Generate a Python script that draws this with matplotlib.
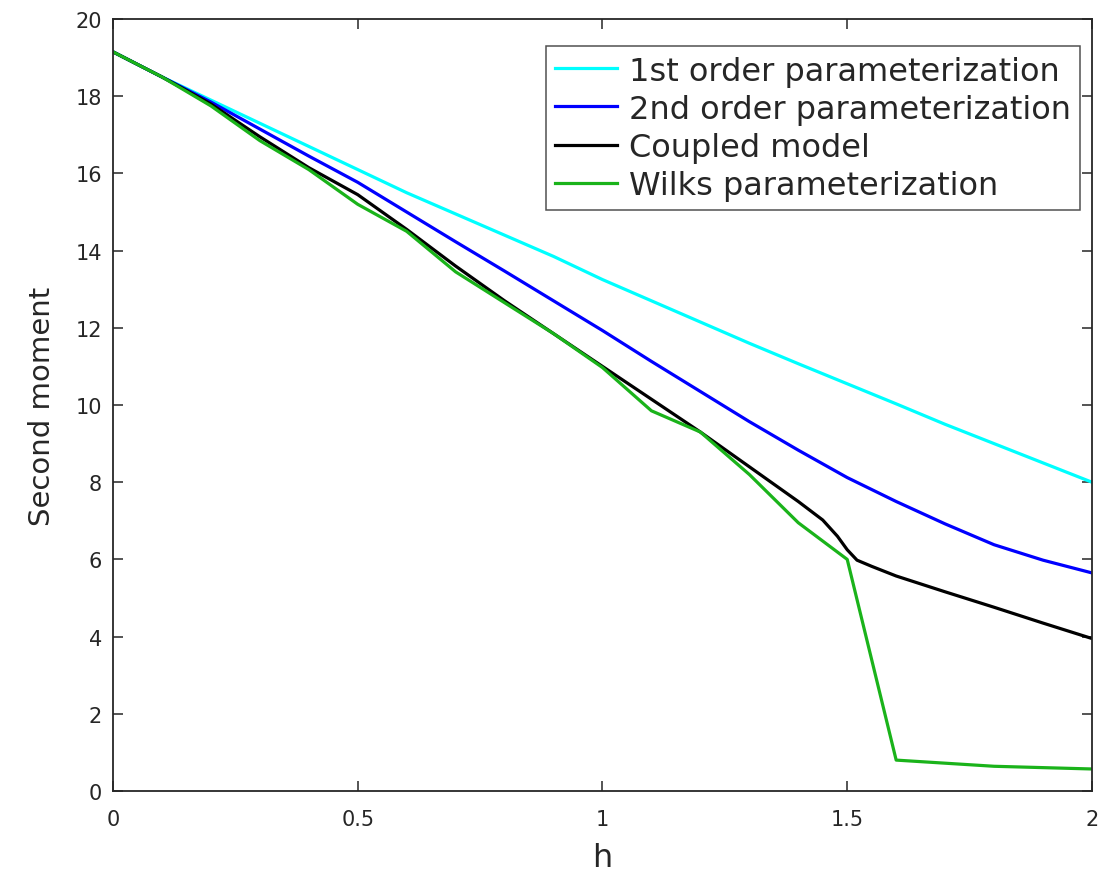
import numpy as np
import matplotlib
matplotlib.use("Agg")
import matplotlib.pyplot as plt

# 1st / 2nd order parameterization, sampled every 0.1 in h
h_param = [0.0, 0.1, 0.2, 0.3, 0.4, 0.5, 0.6, 0.7, 0.8, 0.9, 1.0,
           1.1, 1.2, 1.3, 1.4, 1.5, 1.6, 1.7, 1.8, 1.9, 2.0]
first_order = [19.15, 18.5, 17.9, 17.3, 16.7, 16.1, 15.5, 14.95, 14.4, 13.85, 13.25,
               12.7, 12.15, 11.6, 11.07, 10.55, 10.03, 9.5, 9.0, 8.5, 8.0]
second_order = [19.15, 18.5, 17.85, 17.15, 16.45, 15.77, 15.0, 14.23, 13.47, 12.7, 11.93,
                11.13, 10.35, 9.57, 8.83, 8.12, 7.5, 6.92, 6.38, 5.98, 5.65]

# coupled model
h_coupled = [0.0, 0.1, 0.2, 0.3, 0.4, 0.5, 0.6, 0.7, 0.8, 0.9, 1.0,
             1.1, 1.2, 1.3, 1.4, 1.45, 1.48, 1.5, 1.52, 1.55, 1.6, 1.7, 1.8, 1.9, 2.0]
coupled = [19.15, 18.5, 17.8, 16.95, 16.15, 15.45, 14.55, 13.6, 12.7, 11.85, 11.0,
           10.15, 9.3, 8.4, 7.5, 7.02, 6.6, 6.25, 5.98, 5.82, 5.57, 5.16, 4.76, 4.35, 3.95]

# Wilks parameterization
h_wilks = [0.0, 0.1, 0.2, 0.3, 0.4, 0.5, 0.6, 0.7, 0.8, 0.9, 1.0,
           1.1, 1.2, 1.3, 1.4, 1.5, 1.6, 1.8, 2.0]
wilks = [19.15, 18.5, 17.75, 16.85, 16.1, 15.2, 14.5, 13.45, 12.65, 11.85, 10.97,
         9.85, 9.3, 8.2, 6.95, 6.0, 0.8, 0.64, 0.57]

labels = ["1st order parameterization", "2nd order parameterization",
          "Coupled model", "Wilks parameterization"]

ax_col = "#262626"
plt.rcParams['font.family'] = ['DejaVu Sans']

fig = plt.figure(figsize=(10.99, 8.79), dpi=100)
ax = fig.add_axes([0.1028, 0.099, 0.8908, 0.8782])

lw = 2.3
ax.plot(h_param, first_order, color=(0, 1, 1), lw=lw, label=labels[0])
ax.plot(h_param, second_order, color=(0, 0, 1), lw=lw, label=labels[1])
ax.plot(h_coupled, coupled, color="black", lw=lw, label=labels[2])
ax.plot(h_wilks, wilks, color=(0.1, 0.7, 0.1), lw=lw, label=labels[3])

ax.set_xlim(0, 2)
ax.set_ylim(0, 20)
ax.set_xticks([0, 0.5, 1, 1.5, 2])
ax.set_xticklabels(["0", "0.5", "1", "1.5", "2"])
ax.set_yticks(np.arange(0, 21, 2))

ax.tick_params(direction="in", length=7, width=1.1, colors=ax_col,
               labelsize=15, top=True, right=True, pad=8)
ax.tick_params(axis="x", pad=13)
for s in ax.spines.values():
    s.set_color(ax_col)
    s.set_linewidth(1.3)

ax.set_xlabel("h", fontsize=23, color=ax_col, labelpad=9)
ax.set_ylabel("Second moment", fontsize=21, color=ax_col, labelpad=14)

leg = ax.legend(loc="upper right", bbox_to_anchor=(0.988, 0.965), fontsize=23,
                frameon=True, fancybox=False, edgecolor=ax_col,
                handlelength=1.95, handletextpad=0.35, labelspacing=0.22,
                borderpad=0.3, borderaxespad=0.0)
leg.get_frame().set_linewidth(1.1)
for t in leg.get_texts():
    t.set_color(ax_col)

fig.savefig("out.png", dpi=100)
